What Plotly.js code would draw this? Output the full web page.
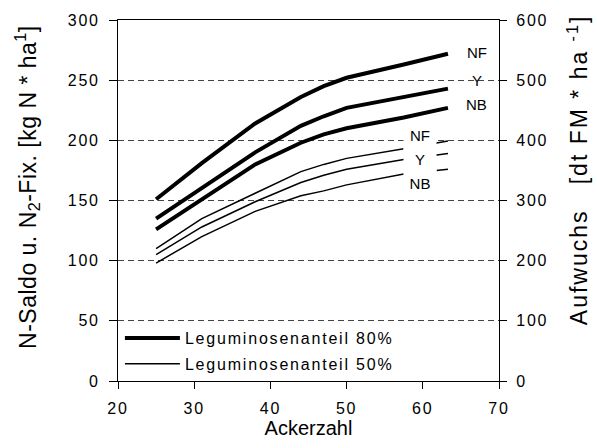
<!DOCTYPE html>
<html>
<head>
<meta charset="utf-8">
<script src="https://cdn.plot.ly/plotly-3.0.1.min.js"></script>
<style>
html,body{margin:0;padding:0;background:#fff;}
text{letter-spacing:1.8px;}
.annotation-text{letter-spacing:0;}
.xtitle{letter-spacing:0;}
.annotation[data-index="0"] .annotation-text{letter-spacing:0.5px;}
.annotation[data-index="1"] .annotation-text{letter-spacing:2px;}
</style>
</head>
<body>
<div id="chart" style="width:597px;height:448px;"></div>
<script>
// Ackerzahl (x values)
const ackerzahl = [25, 31, 38, 44, 47, 50, 57.5, 63.3];
// Leguminosenanteil 80% (kg N/ha)
const nf80 = [151, 181, 214, 236, 245, 252, 263, 272];
const y80  = [135, 160, 190, 212, 220, 227, 236, 243];
const nb80 = [126, 151, 180, 198, 205, 210, 219, 227];
// Leguminosenanteil 50% (kg N/ha)
const nf50 = [110, 135, 156, 174, 180, 185, 193, 199.5];
const y50  = [105, 128, 149, 165, 171, 176, 184, 189];
const nb50 = [98, 120, 141, 154, 158, 163, 172, 176];

const legendNames = ['Leguminosenanteil 80%', 'Leguminosenanteil 50%'];
const curveLabels = ['NF', 'Y', 'NB'];
const xTitle = 'Ackerzahl';
const yTitle = 'N-Saldo u. N<sub>2</sub>-Fix. [kg N * ha<sup>1</sup>]';
const y2Title = 'Aufwuchs   [dt FM * ha <sup>-1</sup>]';
// label anchor positions (Ackerzahl, kg N/ha)
const labelX80 = 67.1, labelY80 = [272.6, 250.1, 230];
const labelX50 = 59.6, labelY50 = [204.4, 184.5, 164.5];

const FONT = 'Liberation Sans, Arial, sans-serif';

function line(y, thick, name, show, group) {
  return {
    x: ackerzahl, y: y, type: 'scatter', mode: 'lines',
    line: {color: '#000', width: thick ? 4 : 1.5},
    name: name, showlegend: show, legendgroup: group, hoverinfo: 'skip'
  };
}

const traces = [
  line(nf80, true, legendNames[0], true, 'g80'),
  line(y80, true, legendNames[0], false, 'g80'),
  line(nb80, true, legendNames[0], false, 'g80'),
  line(nf50, false, legendNames[1], true, 'g50'),
  line(y50, false, legendNames[1], false, 'g50'),
  line(nb50, false, legendNames[1], false, 'g50'),
  {x: [ackerzahl[0]], y: [0], yaxis: 'y2', type: 'scatter', mode: 'none', showlegend: false, hoverinfo: 'skip'}
];

// y-axis titles as rotated annotations (index 0 and 1)
const annotations = [
  {xref: 'paper', yref: 'paper', x: -0.2388, y: 0.537, text: yTitle, textangle: -90,
   showarrow: false, xanchor: 'center', yanchor: 'middle', font: {family: FONT, size: 23, color: '#000'}},
  {xref: 'paper', yref: 'paper', x: 1.2073, y: 0.584, text: y2Title, textangle: -90,
   showarrow: false, xanchor: 'center', yanchor: 'middle', font: {family: FONT, size: 23, color: '#000'}}
];
curveLabels.forEach((t, i) => {
  annotations.push({x: labelX80, y: labelY80[i], text: t, showarrow: false,
    font: {family: FONT, size: 15, color: '#000'}, xanchor: 'center', yanchor: 'middle'});
  annotations.push({x: labelX50, y: labelY50[i], text: t, showarrow: false,
    font: {family: FONT, size: 15, color: '#000'}, xanchor: 'center', yanchor: 'middle',
    bgcolor: '#fff', width: 30, height: 26});
});

const layout = {
  width: 597, height: 448,
  margin: {l: 118, r: 98, t: 20, b: 67},
  paper_bgcolor: '#fff', plot_bgcolor: '#fff',
  font: {family: FONT, size: 16, color: '#000'},
  showlegend: true,
  legend: {x: 0.005, y: 0.0, xanchor: 'left', yanchor: 'bottom', bgcolor: 'rgba(255,255,255,0)',
    font: {family: FONT, size: 16, color: '#000'}, traceorder: 'grouped', tracegroupgap: 2,
    itemwidth: 55},
  xaxis: {
    range: [20, 70], dtick: 10, tick0: 20,
    showline: true, linecolor: '#000', linewidth: 1, mirror: true,
    ticks: 'outside', ticklen: 7, tickcolor: '#000', ticklabelstandoff: 6,
    showgrid: false, zeroline: false,
    tickfont: {size: 16},
    title: {text: xTitle, font: {size: 20}, standoff: 4}
  },
  yaxis: {
    range: [0, 300], dtick: 50, tick0: 0,
    showline: true, linecolor: '#000', linewidth: 1, mirror: true,
    ticks: 'outside', ticklen: 8, tickcolor: '#000', ticklabelstandoff: 6,
    showgrid: true, gridcolor: '#444', griddash: '6px,4px', gridwidth: 1,
    zeroline: false,
    tickfont: {size: 16}
  },
  yaxis2: {
    overlaying: 'y', side: 'right',
    range: [0, 600], dtick: 100, tick0: 0,
    showline: true, linecolor: '#000', linewidth: 1,
    ticks: 'outside', ticklen: 7, tickcolor: '#000', ticklabelstandoff: 6,
    showgrid: false, zeroline: false,
    tickfont: {size: 16}
  },
  annotations: annotations
};

Plotly.newPlot('chart', traces, layout, {staticPlot: true, displayModeBar: false});
</script>
</body>
</html>
